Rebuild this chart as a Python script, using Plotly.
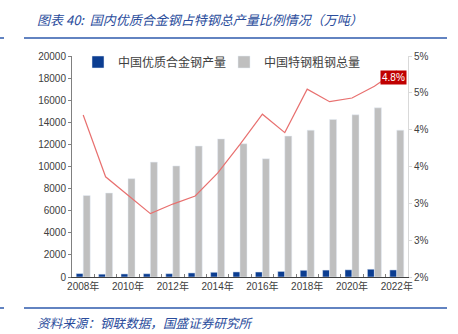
import plotly.graph_objects as go

years = [2008, 2009, 2010, 2011, 2012, 2013, 2014, 2015, 2016, 2017, 2018, 2019, 2020, 2021, 2022]
alloy_output = [310, 255, 277, 297, 300, 367, 426, 458, 450, 505, 605, 625, 650, 703, 638]
special_total = [7370, 7600, 8900, 10400, 10050, 11850, 12500, 12060, 10700, 12750, 13290, 14260, 14680, 15310, 13290]
ratio = [0.0420, 0.0336, 0.0311, 0.0286, 0.0299, 0.0310, 0.0341, 0.0380, 0.0421, 0.0396, 0.0455, 0.0438, 0.0443, 0.0459, 0.0480]
x_tick_years = [2008, 2010, 2012, 2014, 2016, 2018, 2020, 2022]
x_tick_text = [f"{y}年" for y in x_tick_years]
y2_vals = [0.02, 0.025, 0.03, 0.035, 0.04, 0.045, 0.05]
y2_text = ["2%", "3%", "3%", "4%", "4%", "5%", "5%"]

FONT = "Liberation Sans, Noto Sans CJK SC, sans-serif"
CJK = "Noto Sans CJK SC, sans-serif"
BLUE_TXT = "#2A4C9C"

fig = go.Figure()
fig.add_trace(go.Bar(x=years, y=alloy_output, name="中国优质合金钢产量", marker_color="#0B3D91", legend="legend"))
fig.add_trace(go.Bar(x=years, y=special_total, name="中国特钢粗钢总量", marker_color="#BFBFBF", legend="legend2"))
fig.add_trace(go.Scatter(x=years, y=ratio, yaxis="y2", mode="lines", line=dict(color="#E8706F", width=1.2),
                         showlegend=False, name="比例"))

fig.add_annotation(x=years[-1], y=ratio[-1], yref="y2", text=f"{ratio[-1]*100:.1f}%", showarrow=False,
                   yshift=-7, xshift=-3, bgcolor="#C00000", font=dict(color="white", size=10, family=FONT),
                   borderpad=1)

W, H = 458, 334
L, R, T, B = 72, 408, 56, 277
def px(x):
    return (x - L) / (R - L)
def py(y):
    return (B - y) / (B - T)

fig.add_annotation(xref="paper", yref="paper", x=px(35), y=py(20), xanchor="left", yanchor="middle",
                   text="<i>图表 40:  国内优质合金钢占特钢总产量比例情况（万吨）</i>", showarrow=False,
                   font=dict(family=CJK, size=13, color=BLUE_TXT))
fig.add_annotation(xref="paper", yref="paper", x=px(35), y=py(322), xanchor="left", yanchor="middle",
                   text="<i>资料来源：钢联数据，国盛证券研究所</i>", showarrow=False,
                   font=dict(family=CJK, size=12.6, color=BLUE_TXT))
for yy in (38, 308):
    fig.add_shape(type="line", xref="paper", yref="paper", x0=px(24), x1=px(447), y0=py(yy), y1=py(yy),
                  line=dict(color="#2E5AAC", width=1.5))
    fig.add_shape(type="line", xref="paper", yref="paper", x0=px(0), x1=px(4), y0=py(yy), y1=py(yy),
                  line=dict(color="#2E5AAC", width=1.5))

legend_common = dict(orientation="h", yanchor="middle", font=dict(family=CJK, size=12, color="#404040"),
                     bgcolor="rgba(0,0,0,0)", itemwidth=30)

fig.update_layout(
    width=W, height=H,
    margin=dict(l=L, r=W - R, t=T, b=H - B),
    paper_bgcolor="white", plot_bgcolor="white",
    barmode="group", bargap=0.375, bargroupgap=0,
    font=dict(family=FONT, size=10, color="#404040"),
    showlegend=True,
    legend=dict(x=px(78), y=py(62), xanchor="left", **legend_common),
    legend2=dict(x=px(224), y=py(62), xanchor="left", **legend_common),
    xaxis=dict(range=[2007.5, 2022.5], tickvals=x_tick_years, ticktext=x_tick_text, ticks="",
               showgrid=False, zeroline=False, showline=True, linecolor="#404040", linewidth=1,
               tickfont=dict(size=10, family=FONT, color="#404040"),
               minor=dict(tickvals=[y + 0.5 for y in years[:-1]], ticks="inside", ticklen=3,
                          tickcolor="#808080", showgrid=False)),
    yaxis=dict(range=[0, 20000], dtick=2000, tickformat="d", showgrid=False, zeroline=False, showline=True,
               linecolor="#808080", ticks="outside", ticklen=3, tickcolor="#808080",
               tickfont=dict(size=10, family=FONT, color="#404040")),
    yaxis2=dict(range=[0.02, 0.05], overlaying="y", side="right", tickvals=y2_vals, ticktext=y2_text,
                showgrid=False, zeroline=False, showline=True, linecolor="#D9D9D9",
                ticks="outside", ticklen=3, tickcolor="#D9D9D9",
                tickfont=dict(size=10, family=FONT, color="#404040")),
)

fig.write_html("out.html")
